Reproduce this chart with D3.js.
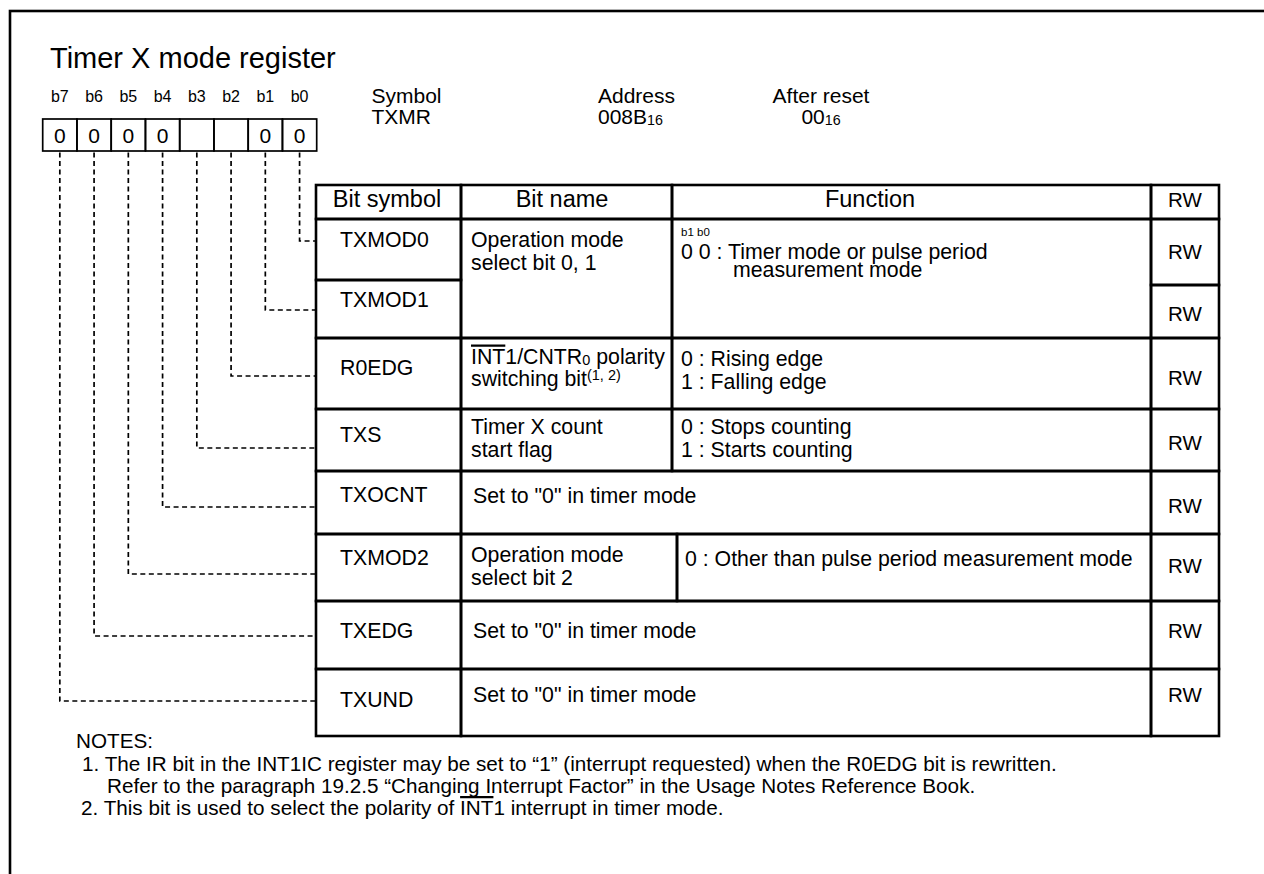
<!DOCTYPE html>
<html><head><meta charset="utf-8">
<script src="https://cdn.jsdelivr.net/npm/d3@7"></script>
<style>
html,body{margin:0;padding:0;background:#fff;}
svg{display:block;}
text{font-family:"Liberation Sans",Arial,Helvetica,sans-serif;fill:#000;}
</style></head><body>
<svg id="c" width="1264" height="874"></svg>
<script>
// ---------------- data ----------------
const title = "Timer X mode register";
const bitLabels = ["b7","b6","b5","b4","b3","b2","b1","b0"];
const bitValues = ["0","0","0","0","","","0","0"];
const infoLabels = ["Symbol","Address","After reset"];
const infoValues = ["TXMR","008B[s:16]","00[s:16]"];
const headers = ["Bit symbol","Bit name","Function","RW"];
// rows in order b0 .. b7
const symbols = ["TXMOD0","TXMOD1","R0EDG","TXS","TXOCNT","TXMOD2","TXEDG","TXUND"];
const access  = ["RW","RW","RW","RW","RW","RW","RW","RW"];
const bitNames = [["Operation mode","select bit 0, 1"], null,
  ["[o:INT]1/CNTR[s:0] polarity","switching bit[u:(1, 2)]"],
  ["Timer X count","start flag"], null,
  ["Operation mode","select bit 2"], null, null];
const functions = [["0 0 : Timer mode or pulse period","measurement mode"], null,
  ["0 : Rising edge","1 : Falling edge"],
  ["0 : Stops counting","1 : Starts counting"], null,
  ["0 : Other than pulse period measurement mode"], null, null];
const functionKey = "b1 b0";
const spanning = [null,null,null,null,'Set to "0" in timer mode',null,'Set to "0" in timer mode','Set to "0" in timer mode'];
const notesHead = "NOTES:";
const notes = [
  "1. The IR bit in the INT1IC register may be set to “1” (interrupt requested) when the R0EDG bit is rewritten.",
  "Refer to the paragraph 19.2.5 “Changing Interrupt Factor” in the Usage Notes Reference Book.",
  "2. This bit is used to select the polarity of [o:INT]1 interrupt in timer mode."];

// ---------------- layout ----------------
const L = {
  titleX:50, titleY:68,
  boxX0:42.7, boxX1:316.7, boxY:119, boxH:32, bitLabelY:102,
  infoX:[371.5,598,821], infoAnchor:["start","start","middle"], infoY1:103, infoY2:124,
  colX:[316,461,672,1151,1219],
  headY0:185, headY1:219, headTextY:207, headTextX:[387,562,870,1185],
  symEdges:[219,280,338,409,471,534,601,669,736],
  rwEdges:[219,285,338,409,471,534,601,669,736],
  groups:[[0,1],[2],[3],[4],[5],[6],[7]],
  splitX:[672,null,672,672,672,677,672,672],
  symX:340, symY:[247,307,375,442,502,565,638,707],
  rwY:[259,321,385,450,513,573,638,702],
  connY:[241,310,376,448,507,574,636,701],
  nameX:471, nameY:[[247,270],null,[364,386],[434,457],null,[562,585],null,null],
  funcX:[[681,733],null,[681,681],[681,681],null,[685],null,null],
  funcY:[[259,277],null,[366,389],[434,457],null,[566],null,null],
  keyX:681, keyY:236,
  spanX:473, spanY:[null,null,null,null,503,null,638,702],
  notesHeadX:76, notesHeadY:748, notesX:[82,107,81], notesY:[771,793,815]
};
const F = {title:29, bitLabel:16, bitVal:21, info:21, head:23.5, rw:20.5, body:21.3, key:11.5, notes:20.7};

const svg = d3.select("#c");

// rich text: [s:..] = small same-baseline, [u:..] = superscript, [o:..] = overline
function parse(str){
  const segs=[]; const re=/\[(s|u|o):([^\]]*)\]/g; let last=0, m;
  while((m=re.exec(str))){ if(m.index>last) segs.push({t:str.slice(last,m.index),k:"n"}); segs.push({t:m[2],k:m[1]}); last=re.lastIndex; }
  if(last<str.length) segs.push({t:str.slice(last),k:"n"});
  return segs;
}
function rich(g,x,y,str,size,anchor){
  const segs=parse(str);
  const t=g.append("text").attr("x",x).attr("y",y).attr("font-size",size).attr("text-anchor",anchor||"start");
  let shift=0; const over=[]; let idx=0;
  segs.forEach(s=>{
    const ts=t.append("tspan").text(s.t);
    let target=0, fs=size;
    if(s.k==="s"){ fs=size*0.68; target=1; }
    if(s.k==="u"){ fs=size*0.68; target=-6; }
    ts.attr("font-size",fs);
    if(target!==shift){ ts.attr("dy",target-shift); shift=target; }
    if(s.k==="o") over.push([idx, s.t.length]);
    idx+=s.t.length;
  });
  over.forEach(([i,n])=>{
    const node=t.node();
    const x0=node.getStartPositionOfChar(i).x, x1=node.getEndPositionOfChar(i+n-1).x;
    g.append("line").attr("x1",x0).attr("x2",x1).attr("y1",y-size*0.86).attr("y2",y-size*0.86)
      .attr("stroke","#000").attr("stroke-width",2.2);
  });
  return t;
}

// frame
svg.append("rect").attr("x",10).attr("y",11).attr("width",1300).attr("height",900)
  .attr("fill","none").attr("stroke","#000").attr("stroke-width",2.6);

// title
svg.append("text").attr("x",L.titleX).attr("y",L.titleY).attr("font-size",F.title).text(title);

// bit boxes
const xb = d3.scaleBand().domain(bitLabels).range([L.boxX0,L.boxX1]).padding(0);
const gb = svg.append("g");
gb.selectAll("text.bl").data(bitLabels).join("text").attr("class","bl")
  .attr("x",d=>xb(d)+xb.bandwidth()/2).attr("y",L.bitLabelY).attr("text-anchor","middle")
  .attr("font-size",F.bitLabel).text(d=>d);
gb.selectAll("rect").data(bitLabels).join("rect")
  .attr("x",d=>xb(d)).attr("y",L.boxY).attr("width",xb.bandwidth()).attr("height",L.boxH)
  .attr("fill","none").attr("stroke","#000").attr("stroke-width",1.7);
gb.selectAll("text.bv").data(bitValues).join("text").attr("class","bv")
  .attr("x",(d,i)=>xb(bitLabels[i])+xb.bandwidth()/2).attr("y",L.boxY+L.boxH/2+7.5)
  .attr("text-anchor","middle").attr("font-size",F.bitVal).text(d=>d);

// info
infoLabels.forEach((lab,i)=>{
  svg.append("text").attr("x",L.infoX[i]).attr("y",L.infoY1).attr("font-size",F.info)
    .attr("text-anchor",L.infoAnchor[i]).text(lab);
  rich(svg,L.infoX[i],L.infoY2,infoValues[i],F.info,L.infoAnchor[i]);
});

// connectors (bit i in b0..b7 order)
const gc = svg.append("g");
symbols.forEach((s,i)=>{
  const bl = "b"+i;
  const cx = xb(bl)+xb.bandwidth()/2;
  gc.append("path").attr("d",`M${cx},${L.boxY+L.boxH+1.5}V${L.connY[i]}H${L.colX[0]}`)
    .attr("fill","none").attr("stroke","#000").attr("stroke-width",1.7).attr("stroke-dasharray","5,3.5");
});

// table
const gt = svg.append("g");
const cells=[];
const C=L.colX;
for(let c=0;c<4;c++) cells.push([C[c],L.headY0,C[c+1],L.headY1]);
for(let i=0;i<8;i++){
  cells.push([C[0],L.symEdges[i],C[1],L.symEdges[i+1]]);
  cells.push([C[3],L.rwEdges[i],C[4],L.rwEdges[i+1]]);
}
L.groups.forEach(gr=>{
  const i0=gr[0], i1=gr[gr.length-1];
  const y0=L.symEdges[i0], y1=L.symEdges[i1+1];
  if(spanning[i0]) cells.push([C[1],y0,C[3],y1]);
  else { cells.push([C[1],y0,L.splitX[i0],y1]); cells.push([L.splitX[i0],y0,C[3],y1]); }
});
gt.selectAll("rect").data(cells).join("rect")
  .attr("x",d=>d[0]).attr("y",d=>d[1]).attr("width",d=>d[2]-d[0]).attr("height",d=>d[3]-d[1])
  .attr("fill","none").attr("stroke","#000").attr("stroke-width",2.6);

// header text
headers.forEach((h,i)=>{
  gt.append("text").attr("x",L.headTextX[i]).attr("y",L.headTextY).attr("text-anchor","middle")
    .attr("font-size",i===3?F.rw:F.head).text(h);
});
// rows
symbols.forEach((s,i)=>{
  gt.append("text").attr("x",L.symX).attr("y",L.symY[i]).attr("font-size",F.body).text(s);
  gt.append("text").attr("x",(C[3]+C[4])/2).attr("y",L.rwY[i]).attr("text-anchor","middle").attr("font-size",F.rw).text(access[i]);
  if(bitNames[i]) bitNames[i].forEach((ln,k)=>rich(gt,L.nameX,L.nameY[i][k],ln,F.body));
  if(functions[i]) functions[i].forEach((ln,k)=>rich(gt,L.funcX[i][k],L.funcY[i][k],ln,F.body));
  if(spanning[i]) gt.append("text").attr("x",L.spanX).attr("y",L.spanY[i]).attr("font-size",F.body).text(spanning[i]);
});
gt.append("text").attr("x",L.keyX).attr("y",L.keyY).attr("font-size",F.key).text(functionKey);

// notes
svg.append("text").attr("x",L.notesHeadX).attr("y",L.notesHeadY).attr("font-size",F.notes).text(notesHead);
notes.forEach((n,i)=>rich(svg,L.notesX[i],L.notesY[i],n,F.notes));
</script>
</body></html>
